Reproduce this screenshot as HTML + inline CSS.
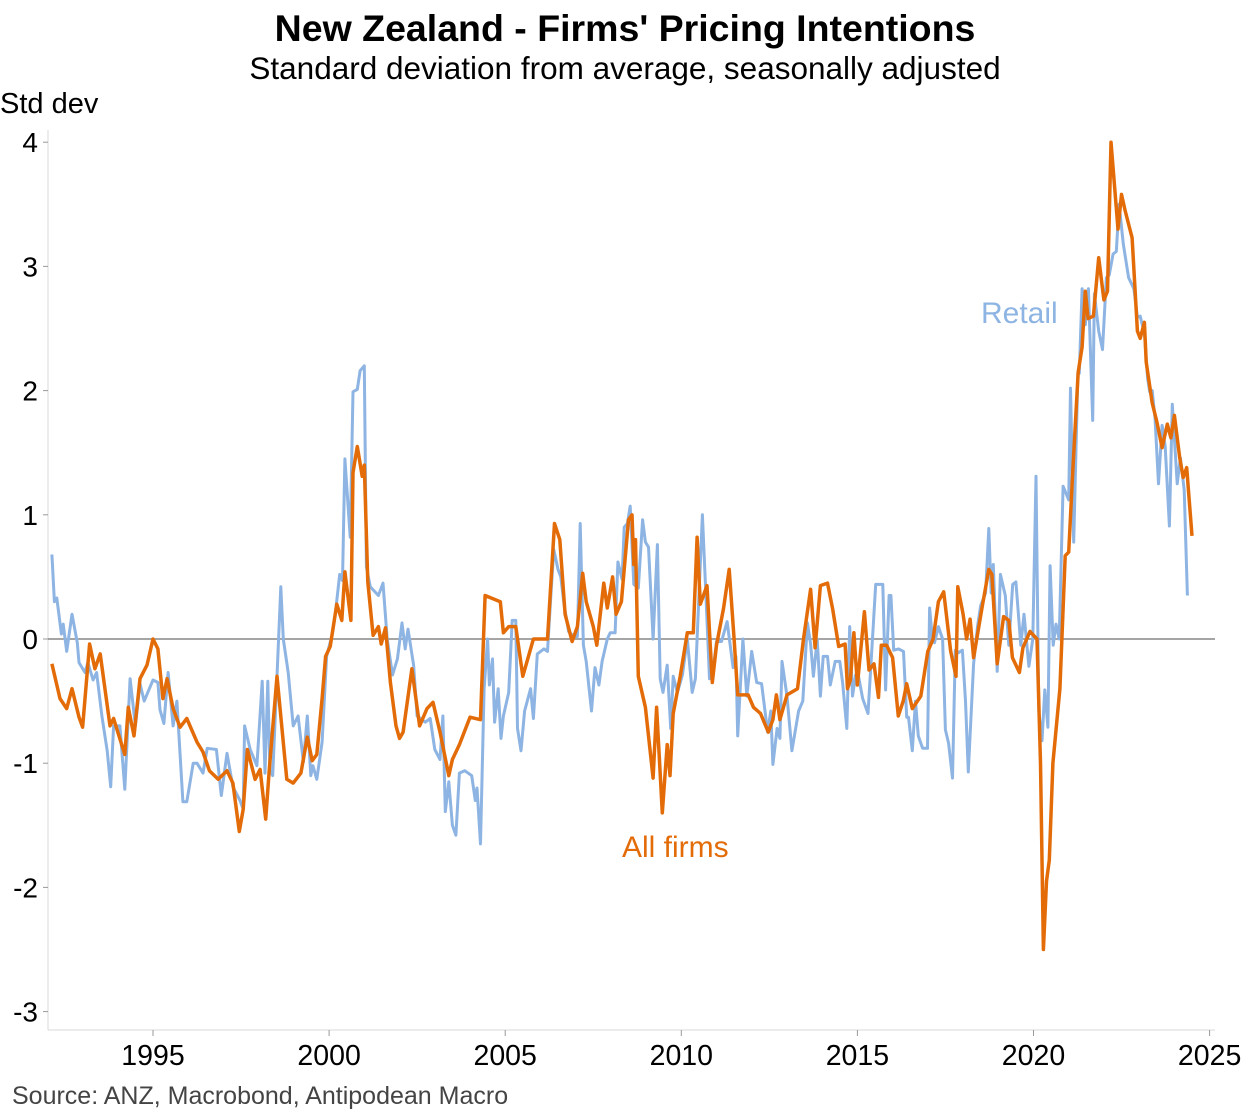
<!DOCTYPE html>
<html><head><meta charset="utf-8">
<style>
html,body{margin:0;padding:0;background:#fff;}
svg{display:block;font-family:"Liberation Sans",Arial,sans-serif;}
</style></head>
<body>
<svg id="chart" width="1245" height="1110" viewBox="0 0 1245 1110">
  <text x="625" y="41" text-anchor="middle" font-size="37.5" font-weight="bold" fill="#000">New Zealand - Firms' Pricing Intentions</text>
  <text x="625" y="79" text-anchor="middle" font-size="31.5" fill="#000">Standard deviation from average, seasonally adjusted</text>
  <text x="0" y="113" font-size="29" fill="#000">Std dev</text>
  <text x="12" y="1104" font-size="25" fill="#444">Source: ANZ, Macrobond, Antipodean Macro</text>
  <g id="axes"></g>
  <g id="series"></g>
  <text x="981" y="323" font-size="30" fill="#8db4e2">Retail</text>
  <text x="622" y="857" font-size="30" fill="#e36c09">All firms</text>
</svg>
<script>
const yTicks=[4,3,2,1,0,-1,-2,-3];
const xTicks=[1995,2000,2005,2010,2015,2020,2025];
const allDates=[1992.13,1992.36,1992.55,1992.7,1992.9,1993.0,1993.2,1993.35,1993.5,1993.78,1993.88,1994.0,1994.2,1994.3,1994.46,1994.63,1994.83,1995.0,1995.14,1995.28,1995.4,1995.57,1995.77,1995.96,1996.25,1996.42,1996.6,1996.85,1997.1,1997.27,1997.45,1997.56,1997.68,1997.9,1998.04,1998.2,1998.3,1998.52,1998.8,1998.98,1999.2,1999.38,1999.52,1999.65,1999.8,1999.9,2000.03,2000.22,2000.36,2000.45,2000.62,2000.68,2000.8,2000.94,2001.0,2001.1,2001.25,2001.4,2001.48,2001.6,2001.74,2001.9,2002.0,2002.1,2002.35,2002.57,2002.78,2002.95,2003.15,2003.4,2003.5,2003.7,2004.0,2004.3,2004.43,2004.86,2004.95,2005.1,2005.3,2005.5,2005.8,2006.2,2006.4,2006.55,2006.7,2006.9,2007.05,2007.2,2007.3,2007.5,2007.6,2007.8,2007.9,2008.05,2008.15,2008.3,2008.5,2008.6,2008.65,2008.7,2008.78,2008.98,2009.2,2009.3,2009.46,2009.6,2009.68,2009.77,2009.97,2010.17,2010.34,2010.45,2010.54,2010.73,2010.88,2011.0,2011.2,2011.36,2011.5,2011.6,2011.9,2012.05,2012.25,2012.47,2012.6,2012.7,2012.8,2013.0,2013.3,2013.47,2013.67,2013.8,2013.95,2014.15,2014.3,2014.47,2014.65,2014.72,2014.8,2014.9,2015.0,2015.2,2015.33,2015.47,2015.6,2015.68,2015.83,2016.0,2016.16,2016.3,2016.4,2016.56,2016.8,2017.0,2017.15,2017.3,2017.45,2017.65,2017.8,2017.85,2018.0,2018.1,2018.2,2018.3,2018.55,2018.73,2018.82,2018.97,2019.15,2019.3,2019.4,2019.6,2019.7,2019.9,2020.1,2020.2,2020.28,2020.37,2020.45,2020.55,2020.75,2020.9,2021.0,2021.12,2021.27,2021.38,2021.47,2021.55,2021.7,2021.85,2022.0,2022.1,2022.2,2022.4,2022.5,2022.6,2022.8,2022.95,2023.03,2023.15,2023.2,2023.37,2023.5,2023.65,2023.8,2023.9,2024.0,2024.15,2024.25,2024.35,2024.5];
const allFirms=[-0.2,-0.48,-0.56,-0.4,-0.63,-0.71,-0.04,-0.24,-0.12,-0.7,-0.64,-0.75,-0.93,-0.55,-0.78,-0.32,-0.21,0.0,-0.08,-0.48,-0.32,-0.56,-0.71,-0.64,-0.83,-0.91,-1.06,-1.13,-1.06,-1.16,-1.55,-1.37,-0.89,-1.13,-1.05,-1.45,-1.06,-0.3,-1.13,-1.16,-1.08,-0.79,-0.98,-0.93,-0.48,-0.14,-0.06,0.28,0.15,0.54,0.15,1.34,1.55,1.31,1.4,0.46,0.03,0.1,-0.04,0.09,-0.35,-0.7,-0.8,-0.75,-0.24,-0.7,-0.56,-0.51,-0.75,-1.1,-0.97,-0.85,-0.63,-0.65,0.35,0.3,0.05,0.1,0.1,-0.3,0.0,0.0,0.93,0.8,0.2,-0.02,0.1,0.53,0.3,0.1,-0.05,0.45,0.25,0.5,0.2,0.3,0.96,1.0,0.6,0.8,-0.3,-0.55,-1.12,-0.55,-1.4,-0.85,-1.1,-0.6,-0.3,0.05,0.05,0.82,0.28,0.43,-0.35,-0.05,0.25,0.56,0.0,-0.45,-0.45,-0.55,-0.6,-0.75,-0.65,-0.45,-0.65,-0.45,-0.4,0.0,0.4,-0.07,0.43,0.45,0.24,-0.06,-0.04,-0.4,-0.33,0.05,-0.37,0.22,-0.25,-0.2,-0.47,-0.05,-0.05,-0.15,-0.62,-0.5,-0.36,-0.56,-0.46,-0.1,0.0,0.3,0.38,-0.1,-0.3,0.42,0.2,0.0,0.16,-0.15,0.27,0.56,0.52,-0.2,0.18,0.15,-0.15,-0.27,-0.07,0.06,0.0,-1.0,-2.5,-1.95,-1.78,-1.0,-0.4,0.67,0.7,1.37,2.15,2.35,2.8,2.58,2.6,3.07,2.73,2.8,4.0,3.3,3.58,3.45,3.23,2.48,2.42,2.55,2.23,1.9,1.75,1.54,1.73,1.62,1.8,1.46,1.3,1.38,0.83];
const retailDates=[1992.13,1992.2,1992.27,1992.4,1992.45,1992.55,1992.7,1992.85,1992.9,1993.07,1993.15,1993.3,1993.4,1993.55,1993.7,1993.8,1993.88,1994.06,1994.2,1994.35,1994.5,1994.63,1994.75,1995.0,1995.14,1995.2,1995.31,1995.43,1995.57,1995.68,1995.85,1995.96,1996.14,1996.25,1996.42,1996.54,1996.8,1996.94,1997.1,1997.27,1997.47,1997.56,1997.6,1997.76,1997.95,1998.1,1998.18,1998.26,1998.32,1998.4,1998.52,1998.63,1998.7,1998.84,1998.98,1999.12,1999.27,1999.38,1999.48,1999.54,1999.65,1999.8,1999.93,2000.1,2000.18,2000.3,2000.38,2000.45,2000.6,2000.68,2000.8,2000.88,2001.0,2001.06,2001.17,2001.4,2001.53,2001.65,2001.8,2001.94,2002.07,2002.16,2002.24,2002.4,2002.5,2002.73,2002.87,2003.0,2003.15,2003.23,2003.3,2003.4,2003.5,2003.6,2003.7,2003.85,2004.05,2004.15,2004.2,2004.3,2004.4,2004.5,2004.55,2004.64,2004.7,2004.8,2004.88,2004.95,2005.1,2005.2,2005.3,2005.35,2005.45,2005.55,2005.72,2005.8,2005.91,2006.1,2006.2,2006.3,2006.38,2006.5,2006.58,2006.67,2006.8,2006.95,2007.05,2007.13,2007.22,2007.3,2007.45,2007.55,2007.66,2007.75,2007.9,2007.98,2008.12,2008.2,2008.32,2008.38,2008.47,2008.55,2008.65,2008.78,2008.9,2008.98,2009.07,2009.2,2009.32,2009.4,2009.48,2009.6,2009.7,2009.77,2009.89,2010.03,2010.17,2010.31,2010.4,2010.6,2010.71,2010.8,2010.88,2011.0,2011.14,2011.3,2011.47,2011.55,2011.6,2011.75,2011.86,2012.0,2012.14,2012.28,2012.45,2012.54,2012.6,2012.72,2012.8,2012.86,2013.0,2013.14,2013.33,2013.45,2013.58,2013.67,2013.75,2013.86,2013.95,2014.03,2014.15,2014.23,2014.37,2014.5,2014.58,2014.7,2014.78,2014.86,2014.95,2015.03,2015.15,2015.3,2015.41,2015.52,2015.72,2015.8,2015.9,2015.95,2016.03,2016.17,2016.31,2016.4,2016.45,2016.56,2016.65,2016.73,2016.85,2016.99,2017.05,2017.13,2017.19,2017.3,2017.42,2017.5,2017.59,2017.7,2017.78,2017.87,2017.98,2018.07,2018.15,2018.3,2018.41,2018.5,2018.64,2018.73,2018.8,2018.86,2018.97,2019.06,2019.2,2019.3,2019.41,2019.5,2019.64,2019.73,2019.87,2019.98,2020.07,2020.15,2020.24,2020.32,2020.41,2020.47,2020.56,2020.64,2020.73,2020.84,2021.0,2021.05,2021.14,2021.26,2021.3,2021.38,2021.47,2021.56,2021.68,2021.73,2021.85,2021.96,2022.07,2022.15,2022.26,2022.35,2022.43,2022.55,2022.7,2022.85,2022.95,2023.03,2023.15,2023.24,2023.3,2023.37,2023.45,2023.55,2023.65,2023.74,2023.86,2023.94,2024.08,2024.17,2024.28,2024.37,2024.5];
const retail=[0.68,0.3,0.33,0.04,0.12,-0.1,0.2,-0.03,-0.19,-0.27,-0.19,-0.33,-0.27,-0.62,-0.9,-1.19,-0.7,-0.7,-1.21,-0.32,-0.7,-0.36,-0.5,-0.33,-0.35,-0.57,-0.68,-0.27,-0.7,-0.5,-1.31,-1.31,-1.0,-1.0,-1.08,-0.88,-0.89,-1.26,-0.92,-1.19,-1.3,-1.37,-0.7,-0.89,-1.02,-0.34,-1.08,-0.34,-1.06,-1.1,-0.3,0.42,0.0,-0.27,-0.7,-0.62,-0.99,-0.62,-1.1,-1.02,-1.13,-0.83,-0.14,0.05,0.21,0.52,0.47,1.45,0.82,1.99,2.01,2.16,2.2,0.58,0.42,0.35,0.45,0.0,-0.29,-0.16,0.13,-0.08,0.08,-0.21,-0.62,-0.67,-0.64,-0.89,-0.97,-0.62,-1.39,-1.15,-1.5,-1.58,-1.08,-1.06,-1.1,-1.3,-1.2,-1.65,-0.4,0.0,-0.37,-0.16,-0.67,-0.4,-0.8,-0.62,-0.43,0.15,0.15,-0.72,-0.9,-0.58,-0.4,-0.64,-0.12,-0.08,-0.1,0.37,0.72,0.56,0.5,0.28,0.06,0.02,0.02,0.93,-0.05,-0.18,-0.58,-0.23,-0.37,-0.18,0.0,0.05,0.05,0.62,0.48,0.9,0.93,1.07,0.44,0.41,0.96,0.78,0.74,0.0,0.76,-0.32,-0.43,-0.21,-0.72,-0.3,-0.43,-0.29,0.0,-0.43,-0.32,1.0,0.28,-0.32,-0.3,-0.02,-0.02,0.14,-0.23,-0.14,-0.78,0.0,-0.46,-0.1,-0.35,-0.36,-0.75,-0.58,-1.01,-0.72,-0.8,-0.18,-0.46,-0.9,-0.58,-0.5,0.13,-0.04,-0.3,0.0,-0.46,-0.14,-0.14,-0.37,-0.18,-0.18,-0.35,-0.72,0.1,-0.46,-0.29,-0.3,-0.48,-0.6,-0.09,0.44,0.44,-0.41,0.35,0.35,-0.09,-0.08,-0.1,-0.63,-0.63,-0.9,-0.5,-0.78,-0.88,-0.88,0.25,0.0,-0.03,0.1,0.0,-0.73,-0.84,-1.12,-0.09,-0.11,-0.09,-0.5,-1.07,-0.2,0.1,0.27,0.37,0.89,0.37,0.6,-0.26,0.52,0.35,-0.05,0.44,0.46,-0.05,0.2,-0.22,0.0,1.31,-0.58,-0.82,-0.41,-0.71,0.59,-0.05,0.12,0.0,1.23,1.12,2.02,0.78,2.14,2.14,2.82,2.53,2.82,1.76,2.78,2.48,2.33,2.91,2.93,3.1,3.12,3.5,3.18,2.91,2.82,2.59,2.6,2.46,2.1,1.99,2.0,1.78,1.25,1.72,1.55,0.91,1.89,1.25,1.46,1.2,0.35];

const NS='http://www.w3.org/2000/svg';
const X0=48,X1=1215,YT=130,YB=1030;
function xScale(yr){return 153+(yr-1995)*35.22;}
function yScale(v){return 639-v*124.2;}
function mk(tag,attrs,parent){const e=document.createElementNS(NS,tag);for(const k in attrs)e.setAttribute(k,attrs[k]);parent.appendChild(e);return e;}
const axes=document.getElementById('axes');
const series=document.getElementById('series');

const yLine=mk('line',{x1:X0,y1:YT,x2:X0,y2:YB,stroke:'#d9d9d9','stroke-width':1},axes);


const xLine=mk('line',{x1:X0,y1:YB,x2:X1,y2:YB,stroke:'#d9d9d9','stroke-width':1},axes);


const zl=mk('line',{x1:X0,y1:yScale(0),x2:X1,y2:yScale(0),stroke:'#6f6f6f','stroke-width':1.2},axes);



yTicks.forEach(v=>{
  const t=mk('line',{x1:X0-5,y1:yScale(v),x2:X0,y2:yScale(v),stroke:'#999','stroke-width':1},axes);
  
  
  const l=mk('text',{x:38,y:yScale(v)+10,'text-anchor':'end','font-size':28,fill:'#000'},axes);
  l.textContent=String(v);
  
  
});
xTicks.forEach(yr=>{
  const t=mk('line',{x1:xScale(yr),y1:YB,x2:xScale(yr),y2:YB+6,stroke:'#999','stroke-width':1},axes);
  
  
  const l=mk('text',{x:xScale(yr),y:1065,'text-anchor':'middle','font-size':28.5,fill:'#000'},axes);
  l.textContent=String(yr);
  
  
});
function path(dates,vals){return dates.map((d,i)=>(i?'L':'M')+xScale(d).toFixed(1)+','+yScale(vals[i]).toFixed(1)).join(' ');}
const pr=mk('path',{d:path(retailDates,retail),fill:'none',stroke:'#8db4e2','stroke-width':3,'stroke-linejoin':'round'},series);


const pa=mk('path',{d:path(allDates,allFirms),fill:'none',stroke:'#e36c09','stroke-width':3.5,'stroke-linejoin':'round'},series);


</script>
</body></html>
